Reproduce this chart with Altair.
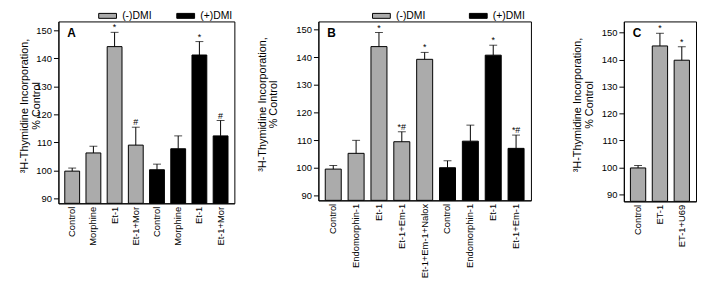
import altair as alt
import pandas as pd

GROUPS = ["(-)DMI", "(+)DMI"]
COLORS = ["#ababab", "#000000"]
Y_TICKS = [90, 100, 110, 120, 130, 140, 150]
Y_TITLE = ["\u00b3H-Thymidine Incorporation,", "% Control"]

# Panel A
A_labels = ["Control", "Morphine", "Et-1", "Et-1+Mor", "Control", "Morphine", "Et-1", "Et-1+Mor"]
A_group = ["(-)DMI"] * 4 + ["(+)DMI"] * 4
A_mean = [99.7, 106.2, 144.2, 109.0, 100.2, 107.7, 141.2, 112.3]
A_err = [1.1, 2.4, 5.1, 6.4, 2.0, 4.6, 4.8, 5.5]
A_sig = ["", "", "*", "#", "", "", "*", "#"]

# Panel B
B_labels = ["Control", "Endomorphin-1", "Et-1", "Et-1+Em-1", "Et-1+Em-1+Nalox",
            "Control", "Endomorphin-1", "Et-1", "Et-1+Em-1"]
B_group = ["(-)DMI"] * 5 + ["(+)DMI"] * 4
B_mean = [99.5, 105.2, 143.8, 109.4, 139.2, 100.0, 109.6, 140.7, 107.0]
B_err = [1.3, 4.7, 5.1, 3.6, 2.5, 2.5, 5.8, 3.6, 4.8]
B_sig = ["", "", "*", "*#", "*", "", "", "*", "*#"]

# Panel C
C_labels = ["Control", "ET-1", "ET-1+U69"]
C_group = ["(-)DMI"] * 3
C_mean = [99.8, 145.1, 139.8]
C_err = [0.9, 4.7, 5.0]
C_sig = ["", "*", "*"]

FONT = "Liberation Sans"
XLAB = 9.5
YLAB = 9.5
TITLE = 11


def panel(labels, groups, means, errs, sigs, letter, width, height, ydom,
          title_x, legend_x=None, col_pad=30):
    df = pd.DataFrame({
        "i": list(range(len(labels))),
        "grp": groups,
        "mean": means,
        "top": [m + e for m, e in zip(means, errs)],
        "sig": sigs,
    })
    label_expr = "[" + ",".join("'" + l + "'" for l in labels) + "][datum.value]"
    x = alt.X("i:O", title=None,
              scale=alt.Scale(paddingInner=0.3, paddingOuter=0.3),
              axis=alt.Axis(labelExpr=label_expr, labelAngle=270, ticks=False,
                            tickSize=0, labelPadding=3, labelFontSize=XLAB))
    yscale = alt.Scale(domain=ydom, zero=False, nice=False)
    y = alt.Y("mean:Q", scale=yscale,
              axis=alt.Axis(values=Y_TICKS, tickCount=10, labelOverlap=False, title=Y_TITLE,
                            titleX=title_x, titleY=height / 2 - 7, titleAngle=270,
                            titleAlign="center", titleBaseline="top",
                            tickSize=5, labelPadding=2, labelFontSize=YLAB,
                            titleFontSize=TITLE, titleFontWeight="normal",
                            titleLineHeight=TITLE + 1))
    if legend_x is not None:
        leg = alt.Legend(orient="none", legendX=legend_x, legendY=-11,
                         direction="horizontal", title=None,
                         symbolType="M-2.571,-0.714H2.571V0.714H-2.571Z", symbolSize=49,
                         symbolStrokeColor="black", symbolStrokeWidth=1,
                         labelFontSize=10.5, labelFont=FONT, labelColor="black",
                         columnPadding=col_pad, labelOffset=9.5, padding=0)
    else:
        leg = None
    color = alt.Color("grp:N", scale=alt.Scale(domain=GROUPS, range=COLORS), legend=leg)

    base = alt.Chart(df)
    bars = base.mark_bar(stroke="black", strokeWidth=1).encode(
        x=x, y=y, y2=alt.datum(ydom[0]), color=color)
    rule = base.mark_rule(color="black", strokeWidth=1).encode(
        x="i:O", y="mean:Q", y2="top:Q")
    cap = base.mark_tick(color="black", size=8, thickness=1).encode(
        x="i:O", y="top:Q")
    sig = base.mark_text(fontSize=9, baseline="alphabetic", dy=-2, color="black").encode(
        x="i:O", y="top:Q", text="sig:N")
    let = alt.Chart(pd.DataFrame({"t": [letter]})).mark_text(
        fontSize=12, fontWeight="bold", align="left", baseline="middle", color="black"
    ).encode(x=alt.value(9), y=alt.value(12), text="t:N")
    return alt.layer(bars, rule, cap, sig, let).properties(
        width=width, height=height, view=alt.ViewBackground(stroke="black", strokeWidth=1))


def spacer(w):
    return alt.Chart(pd.DataFrame({"v": [0]})).mark_point(opacity=0).encode(
        x=alt.value(0), y=alt.value(0)
    ).properties(width=w, height=1, view=alt.ViewBackground(stroke="transparent"))


pA = panel(A_labels, A_group, A_mean, A_err, A_sig, "A", 178, 184, [88.2, 153.2],
           title_x=-40, legend_x=44.5, col_pad=23)
pB = panel(B_labels, B_group, B_mean, B_err, B_sig, "B", 215, 181, [88.2, 152.9],
           title_x=-63, legend_x=58.5, col_pad=42)
pC = panel(C_labels, C_group, C_mean, C_err, C_sig, "C", 73, 182, [87.4, 154.2],
           title_x=-53, legend_x=None)

chart = alt.hconcat(pA, spacer(85), pB, spacer(94), pC, spacing=0, bounds="flush").resolve_scale(
    color="independent", x="independent", y="independent"
).resolve_legend(color="independent").properties(
    padding={"left": 10, "top": 0, "right": 0, "bottom": 0}
).configure(font=FONT).configure_axis(
    domainColor="black", tickColor="black", labelColor="black", titleColor="black",
    grid=False, labelFont=FONT, titleFont=FONT
)

chart.save("out.html", embed_options={"renderer": "svg", "actions": False})
